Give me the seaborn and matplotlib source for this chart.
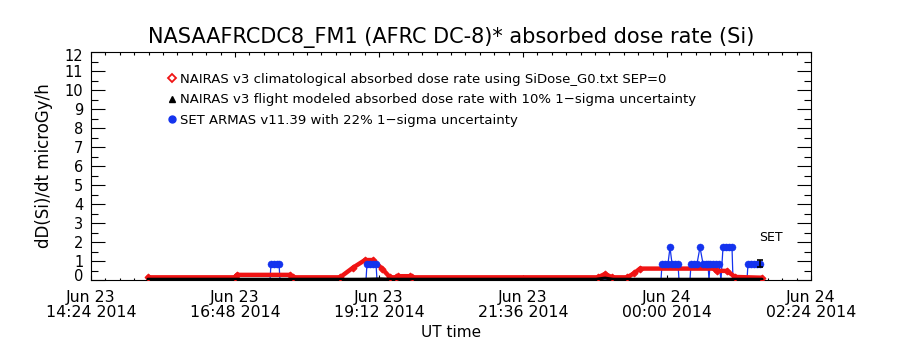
import numpy as np
import pandas as pd
import matplotlib
matplotlib.use("Agg")
import matplotlib.pyplot as plt
import matplotlib.dates as mdates
from matplotlib.lines import Line2D
from matplotlib.ticker import FixedLocator, MultipleLocator
from matplotlib.transforms import ScaledTranslation
import seaborn as sns

# ---------------- data ----------------
START = pd.Timestamp("2014-06-23 14:24")   # time origin (UT)

# NAIRAS v3 climatological absorbed dose rate (minutes after START, microGy/h)
red_t = [57, 144, 146, 199, 202, 249, 262, 274, 282, 291, 299, 305, 307, 319,
         321, 507, 514, 521, 536, 543, 549, 624, 626, 636, 644, 671]
red_v = [0.14, 0.14, 0.27, 0.27, 0.14, 0.14, 0.65, 1.05, 1.05, 0.6, 0.14, 0.14,
         0.2, 0.2, 0.14, 0.14, 0.32, 0.14, 0.14, 0.35, 0.6, 0.6, 0.48, 0.48,
         0.16, 0.12]

# NAIRAS v3 flight modeled absorbed dose rate
black_t = [57, 150, 270, 290, 300, 505, 514, 522, 671]
black_v = [0.04, 0.04, 0.04, 0.06, 0.04, 0.04, 0.1, 0.04, 0.04]

# SET ARMAS v11.39
blue_t = [179, 180, 183, 186, 188, 189,
          275, 276, 279, 282, 285, 286,
          570, 571, 574, 577, 579, 581, 584, 587, 588,
          599, 600, 603, 606, 609, 612, 615, 617, 618, 619, 622, 625, 628, 630,
          632, 635, 638, 641, 642,
          656, 657, 660, 663, 666, 669]
blue_v = [0, 0.86, 0.86, 0.86, 0.86, 0,
          0, 0.86, 0.86, 0.86, 0.86, 0,
          0, 0.86, 0.86, 0.86, 1.72, 0.86, 0.86, 0.86, 0,
          0, 0.86, 0.86, 0.86, 1.72, 0.86, 0.86, 0.86, 0, 0.86, 0.86, 0.86, 0.86, 0,
          1.72, 1.72, 1.72, 1.72, 0,
          0, 0.86, 0.86, 0.86, 0.86, 0.86]
blue_err_frac = 0.22

title = "NASAAFRCDC8_FM1 (AFRC DC-8)* absorbed dose rate (Si)"
legend_labels = [
    "NAIRAS v3 climatological absorbed dose rate using SiDose_G0.txt SEP=0",
    "NAIRAS v3 flight modeled absorbed dose rate with 10% 1\u2212sigma uncertainty",
    "SET ARMAS v11.39 with 22% 1\u2212sigma uncertainty",
]
x_tick_times = ["2014-06-23 14:24", "2014-06-23 16:48", "2014-06-23 19:12",
                "2014-06-23 21:36", "2014-06-24 00:00", "2014-06-24 02:24"]
y_ticks = list(range(0, 13))
set_label_t, set_label_v = 668, 2.26

# ---------------- style ----------------
sns.set_style("ticks")
plt.rcParams["font.family"] = ["DejaVu Sans"]
for k in ["text.color", "axes.labelcolor", "xtick.color", "ytick.color",
          "axes.edgecolor"]:
    plt.rcParams[k] = "black"

RED = "#f01414"
BLUE = "#1433ee"
BLACK = "#000000"

def to_time(mins):
    return START + pd.to_timedelta(mins, unit="min")

red_df = pd.DataFrame({"time": to_time(red_t), "value": red_v})
black_df = pd.DataFrame({"time": to_time(black_t), "value": black_v})
blue_df = pd.DataFrame({"time": to_time(blue_t), "value": blue_v})
blue_pts = blue_df[blue_df["value"] > 0]

fig = plt.figure(figsize=(9, 3.5), dpi=100)
ax = fig.add_axes([91 / 900, 70 / 350, 720 / 900, 228 / 350])

# blue connecting line (under red)
sns.lineplot(data=blue_df, x="time", y="value", ax=ax, color=BLUE, lw=0.9,
             estimator=None, sort=False, zorder=2, legend=False)
# red climatological
sns.lineplot(data=red_df, x="time", y="value", ax=ax, color=RED, lw=3.2,
             marker="D", markersize=3.5, markeredgecolor=RED,
             estimator=None, sort=False, zorder=3, legend=False)
# black flight modeled
sns.lineplot(data=black_df, x="time", y="value", ax=ax, color=BLACK, lw=2.2,
             estimator=None, sort=False, zorder=4, legend=False)
# blue points on top
sns.scatterplot(data=blue_pts, x="time", y="value", ax=ax, color=BLUE, s=26,
                marker="o", edgecolor=BLUE, linewidth=0.3, zorder=5, legend=False)
# error bar on the last ARMAS point
last = blue_df.iloc[-1]
ax.errorbar([last["time"]], [last["value"]], yerr=[blue_err_frac * last["value"]],
            fmt="none", ecolor=BLACK, elinewidth=1.2, capsize=2.5, capthick=1.2,
            zorder=6)

ax.text(to_time(set_label_t), set_label_v, "SET", fontsize=9, ha="left",
        va="center", zorder=7)

# ---------------- axes ----------------
xt = mdates.date2num(pd.to_datetime(x_tick_times))
ax.set_xlim(xt[0], xt[-1])
ax.set_ylim(0, 12)
ax.xaxis.set_major_locator(FixedLocator(xt))
minor_x = np.linspace(xt[0], xt[-1], 51)
ax.xaxis.set_minor_locator(FixedLocator(minor_x))
ax.xaxis.set_major_formatter(mdates.DateFormatter("%b %d\n%H:%M %Y"))
ax.yaxis.set_major_locator(FixedLocator(y_ticks))
ax.yaxis.set_minor_locator(MultipleLocator(0.5))
ax.set_yticklabels([str(v) for v in y_ticks])

for s in ax.spines.values():
    s.set_visible(True)
    s.set_linewidth(0.8)
    s.set_color("black")

ax.tick_params(axis="y", which="major", direction="in", length=10.4, width=0.8,
               left=True, right=True, labelsize=10.5, pad=5.5, colors="black")
ax.tick_params(axis="y", which="minor", direction="in", length=5.2, width=0.8,
               left=True, right=True)
ax.tick_params(axis="x", which="major", direction="in", length=3.4, width=0.8,
               bottom=True, top=True, labelsize=11.3, pad=7.5, colors="black")
ax.tick_params(axis="x", which="minor", direction="in", length=1.8, width=0.8,
               bottom=True, top=True)
for lab in ax.get_xticklabels():
    lab.set_linespacing(0.95)

# nudge the end labels inward like the reference
yt = ax.yaxis.get_major_ticks()
lab0 = yt[0].label1
lab0.set_transform(lab0.get_transform() + ScaledTranslation(0, 5 / 100, fig.dpi_scale_trans))
labn = yt[-1].label1
labn.set_transform(labn.get_transform() + ScaledTranslation(0, -3 / 100, fig.dpi_scale_trans))

ax.set_xlabel("UT time", fontsize=11)
ax.xaxis.set_label_coords(0.5, (280 - 325) / 228)
ax.xaxis.label.set_va("top")
ax.set_ylabel("dD(Si)/dt microGy/h", fontsize=12)
ax.yaxis.set_label_coords((53 - 91) / 720, 0.5)

ax.text(0.5, 1 + (52 - 38) / 228, title, transform=ax.transAxes, ha="center",
        va="center", fontsize=15)

handles = [
    Line2D([], [], ls="none", marker="D", markersize=4, markerfacecolor="white",
           markeredgecolor=RED, markeredgewidth=1.3),
    Line2D([], [], ls="none", marker="^", markersize=5, color=BLACK),
    Line2D([], [], ls="none", marker="o", markersize=5, color=BLUE),
]
ax.legend(handles, legend_labels, loc="upper left",
          bbox_to_anchor=((168 - 91) / 720, (280 - 73) / 228), frameon=False,
          fontsize=9.5, handlelength=0.6, handletextpad=0.3, labelspacing=0.55,
          borderaxespad=0, borderpad=0)

fig.savefig("out.png", dpi=100)
